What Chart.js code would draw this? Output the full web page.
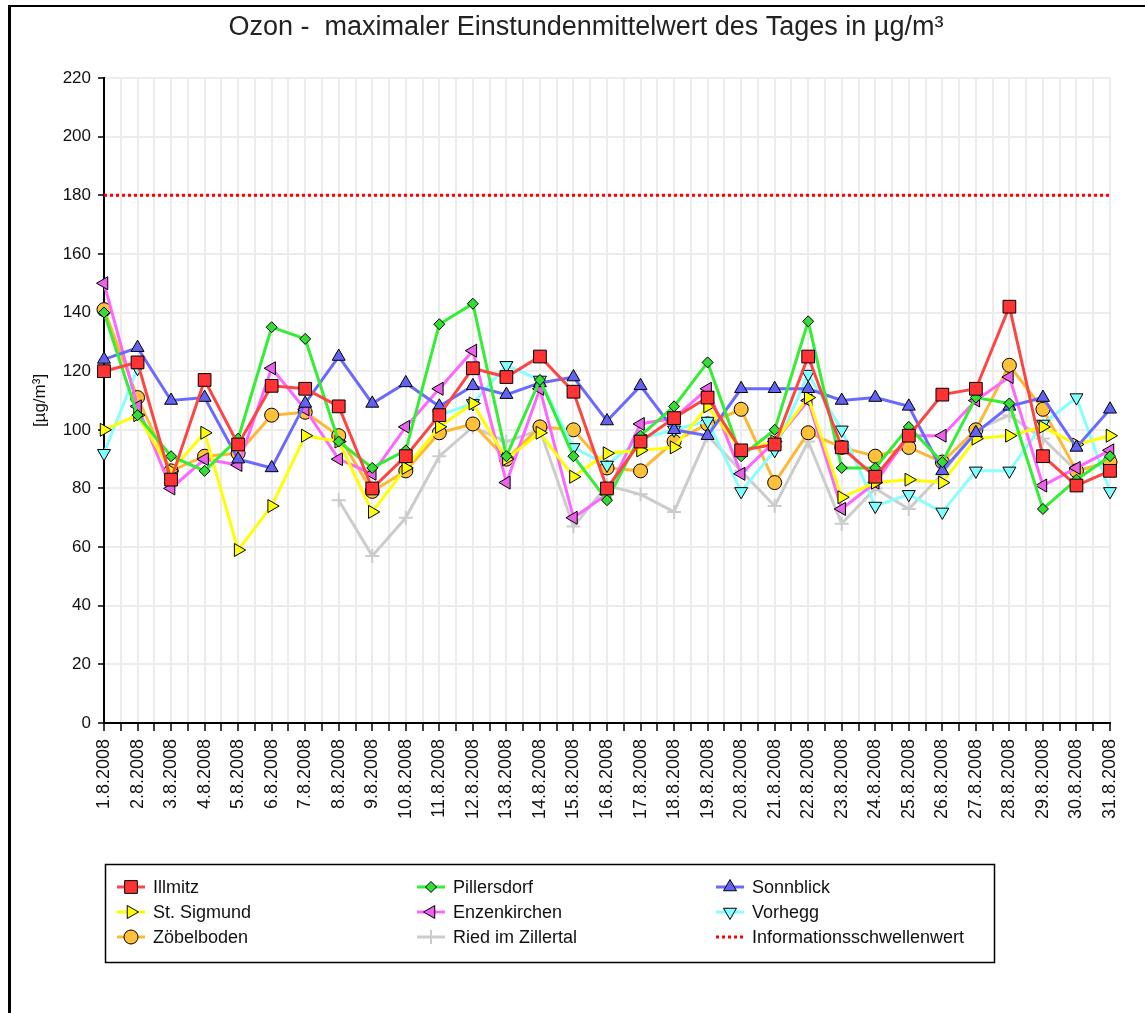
<!DOCTYPE html>
<html><head><meta charset="utf-8">
<script src="https://cdn.jsdelivr.net/npm/chart.js"></script>
<style>
html,body{margin:0;padding:0;background:#fff;}
#wrap{position:relative;width:1145px;height:1013px;overflow:hidden;}
#frame{position:absolute;left:8px;top:5px;width:1140px;height:1010px;border-left:3px solid #000;border-top:2px solid #000;pointer-events:none;}
canvas{position:absolute;left:0;top:0;}
</style></head><body>
<div id="wrap"><canvas id="c" width="1145" height="1013"></canvas><div id="frame"></div></div>
<script>
const chartTitle = 'Ozon -  maximaler Einstundenmittelwert des Tages in µg/m³';
const yAxisTitle = '[µg/m³]';
const dateLabels = ['1.8.2008','2.8.2008','3.8.2008','4.8.2008','5.8.2008','6.8.2008','7.8.2008','8.8.2008','9.8.2008','10.8.2008',
  '11.8.2008','12.8.2008','13.8.2008','14.8.2008','15.8.2008','16.8.2008','17.8.2008','18.8.2008','19.8.2008','20.8.2008',
  '21.8.2008','22.8.2008','23.8.2008','24.8.2008','25.8.2008','26.8.2008','27.8.2008','28.8.2008','29.8.2008','30.8.2008','31.8.2008'];
const illmitz     = [120,123,83,117,95,115,114,108,80,91,105,121,118,125,113,80,96,104,111,93,95,125,94,84,98,112,114,142,91,81,86];
const pillersdorf = [140,105,91,86,97,135,131,96,87,93,136,143,91,117,91,76,98,108,123,91,100,137,87,87,101,89,111,109,73,83,91];
const sonnblick   = [124,128,110,111,90,87,109,125,109,116,108,115,112,116,118,103,115,100,98,114,114,114,110,111,108,86,99,108,111,94,107];
const stSigmund   = [100,105,86,99,59,74,98,96,72,87,101,109,90,99,84,92,93,94,108,93,96,111,77,82,83,82,97,98,101,95,98];
const enzenkirchen= [150,108,80,90,88,121,107,90,85,101,114,127,82,114,70,78,102,104,114,85,96,110,73,82,98,98,110,118,81,87,93];
const vorhegg     = [92,121,null,null,null,null,null,null,null,null,105,109,122,117,94,88,97,100,103,79,93,119,100,74,78,72,86,86,102,111,79];
const zoebelboden = [141,111,86,91,92,105,106,98,79,86,99,102,90,101,100,87,86,96,102,107,82,99,94,91,94,89,100,122,107,86,89];
const ried        = [null,null,null,null,null,null,null,76,57,70,91,101,96,100,67,81,78,72,98,86,74,96,68,80,73,85,100,105,97,86,89];
const thresholdValue = 180;
const yTicks = [0,20,40,60,80,100,120,140,160,180,200,220];

const FONT = '"Liberation Sans", Arial, sans-serif';

const seriesDefs = [
  {label:'Illmitz', values:illmitz, line:'#ff4444', fill:'#ff3333', style:'rect', r:9, rot:0},
  {label:'Pillersdorf', values:pillersdorf, line:'#33ee33', fill:'#33dd33', style:'rectRot', r:5.5, rot:0},
  {label:'Sonnblick', values:sonnblick, line:'#6a6aff', fill:'#6262f2', style:'triangle', r:7.5, rot:0},
  {label:'St. Sigmund', values:stSigmund, line:'#ffff00', fill:'#ffff00', style:'triangle', r:7.5, rot:90},
  {label:'Enzenkirchen', values:enzenkirchen, line:'#ff66ff', fill:'#e862e8', style:'triangle', r:7.5, rot:-90},
  {label:'Vorhegg', values:vorhegg, line:'#88ffff', fill:'#80ffff', style:'triangle', r:7.5, rot:180},
  {label:'Zöbelboden', values:zoebelboden, line:'#ffb833', fill:'#ffc13a', style:'circle', r:7, rot:0},
  {label:'Ried im Zillertal', values:ried, line:'#cccccc', fill:'#cccccc', style:'cross', r:7, rot:0, cross:true}
];

const datasets = seriesDefs.map(d => ({
  label: d.label,
  data: d.values.map((v, i) => ({x: i, y: v})),
  borderColor: d.line,
  borderWidth: 3,
  backgroundColor: d.fill,
  pointStyle: d.style,
  pointRadius: d.r,
  pointRotation: d.rot,
  pointBackgroundColor: d.fill,
  pointBorderColor: d.cross ? d.line : '#000',
  pointBorderWidth: d.cross ? 2 : 1,
  tension: 0,
  fill: false,
  spanGaps: false,
  clip: false
}));
datasets.push({
  label: 'Informationsschwellenwert',
  data: [{x: 0, y: thresholdValue}, {x: dateLabels.length - 1, y: thresholdValue}],
  borderColor: '#ff0000',
  borderWidth: 3,
  borderDash: [3, 3],
  pointRadius: 0,
  fill: false
});

function drawMarker(ctx, style, r, rotDeg, x, y, fill, stroke, bw) {
  ctx.save();
  ctx.translate(x, y);
  ctx.rotate(rotDeg * Math.PI / 180);
  ctx.beginPath();
  if (style === 'rect') { const s = r * Math.SQRT1_2; ctx.rect(-s, -s, 2 * s, 2 * s); }
  else if (style === 'rectRot') { ctx.moveTo(0, -r); ctx.lineTo(r, 0); ctx.lineTo(0, r); ctx.lineTo(-r, 0); ctx.closePath(); }
  else if (style === 'triangle') {
    for (let k = 0; k < 3; k++) { const a = k * 2 * Math.PI / 3; const px = Math.sin(a) * r, py = -Math.cos(a) * r; if (k) ctx.lineTo(px, py); else ctx.moveTo(px, py); }
    ctx.closePath();
  }
  else if (style === 'circle') { ctx.arc(0, 0, r, 0, 2 * Math.PI); }
  else if (style === 'cross') { ctx.moveTo(0, -r); ctx.lineTo(0, r); ctx.moveTo(-r, 0); ctx.lineTo(r, 0); }
  if (style !== 'cross') { ctx.fillStyle = fill; ctx.fill(); }
  ctx.strokeStyle = stroke; ctx.lineWidth = bw; ctx.stroke();
  ctx.restore();
}

const legendColX = [131, 431, 730];
const legendRowY = [887, 912, 937];

const overlay = {
  id: 'overlay',
  afterDraw(chart) {
    const ctx = chart.ctx;
    ctx.save();
    ctx.fillStyle = '#222';
    ctx.font = '27px ' + FONT;
    ctx.textAlign = 'center';
    ctx.textBaseline = 'middle';
    ctx.fillText(chartTitle, 586, 28);
    ctx.strokeStyle = '#000';
    ctx.lineWidth = 1.5;
    ctx.strokeRect(105.5, 864.5, 889, 98);
    ctx.font = '18px ' + FONT;
    ctx.textAlign = 'left';
    chart.data.datasets.forEach((ds, i) => {
      const cx = legendColX[i % 3], cy = legendRowY[Math.floor(i / 3)];
      ctx.strokeStyle = ds.borderColor;
      ctx.lineWidth = 3;
      ctx.setLineDash(ds.borderDash || []);
      ctx.beginPath(); ctx.moveTo(cx - 14, cy); ctx.lineTo(cx + 14, cy); ctx.stroke();
      ctx.setLineDash([]);
      if (ds.pointRadius > 0) drawMarker(ctx, ds.pointStyle, ds.pointRadius, ds.pointRotation || 0, cx, cy, ds.pointBackgroundColor, ds.pointBorderColor, ds.pointBorderWidth);
      ctx.fillStyle = '#111';
      ctx.fillText(ds.label, cx + 22, cy + 1);
    });
    ctx.restore();
  }
};

new Chart(document.getElementById('c'), {
  type: 'line',
  data: {datasets},
  plugins: [overlay],
  options: {
    responsive: false,
    animation: false,
    devicePixelRatio: 1,
    layout: {padding: {left: 10, right: 35, top: 78, bottom: 190}},
    plugins: {legend: {display: false}, title: {display: false}, tooltip: {enabled: false}},
    scales: {
      x: {
        type: 'linear', min: 0, max: dateLabels.length - 1,
        afterBuildTicks: s => { const t = []; for (let v = 0; v <= dateLabels.length - 1; v += 0.5) t.push({value: v}); s.ticks = t; },
        afterFit: s => { s.height = 100; },
        ticks: {
          autoSkip: false, minRotation: 90, maxRotation: 90, padding: 8,
          color: '#111', font: {family: FONT, size: 18},
          callback: v => Number.isInteger(v) ? dateLabels[v] : ''
        },
        grid: {color: '#ececec', lineWidth: 2, tickColor: '#000', tickLength: 8, tickWidth: 1.5},
        border: {color: '#000', width: 2}
      },
      y: {
        min: 0, max: 220,
        afterBuildTicks: s => { s.ticks = yTicks.map(v => ({value: v})); },
        afterFit: s => { s.width = 94; },
        ticks: {color: '#111', font: {family: FONT, size: 17}, padding: 7},
        grid: {color: '#ececec', lineWidth: 2, tickColor: '#000', tickLength: 6, tickWidth: 1.5},
        border: {color: '#000', width: 2},
        title: {display: true, text: yAxisTitle, color: '#111', font: {family: FONT, size: 17}, padding: {top: 20, bottom: 0}}
      }
    }
  }
});
</script>
</body></html>
